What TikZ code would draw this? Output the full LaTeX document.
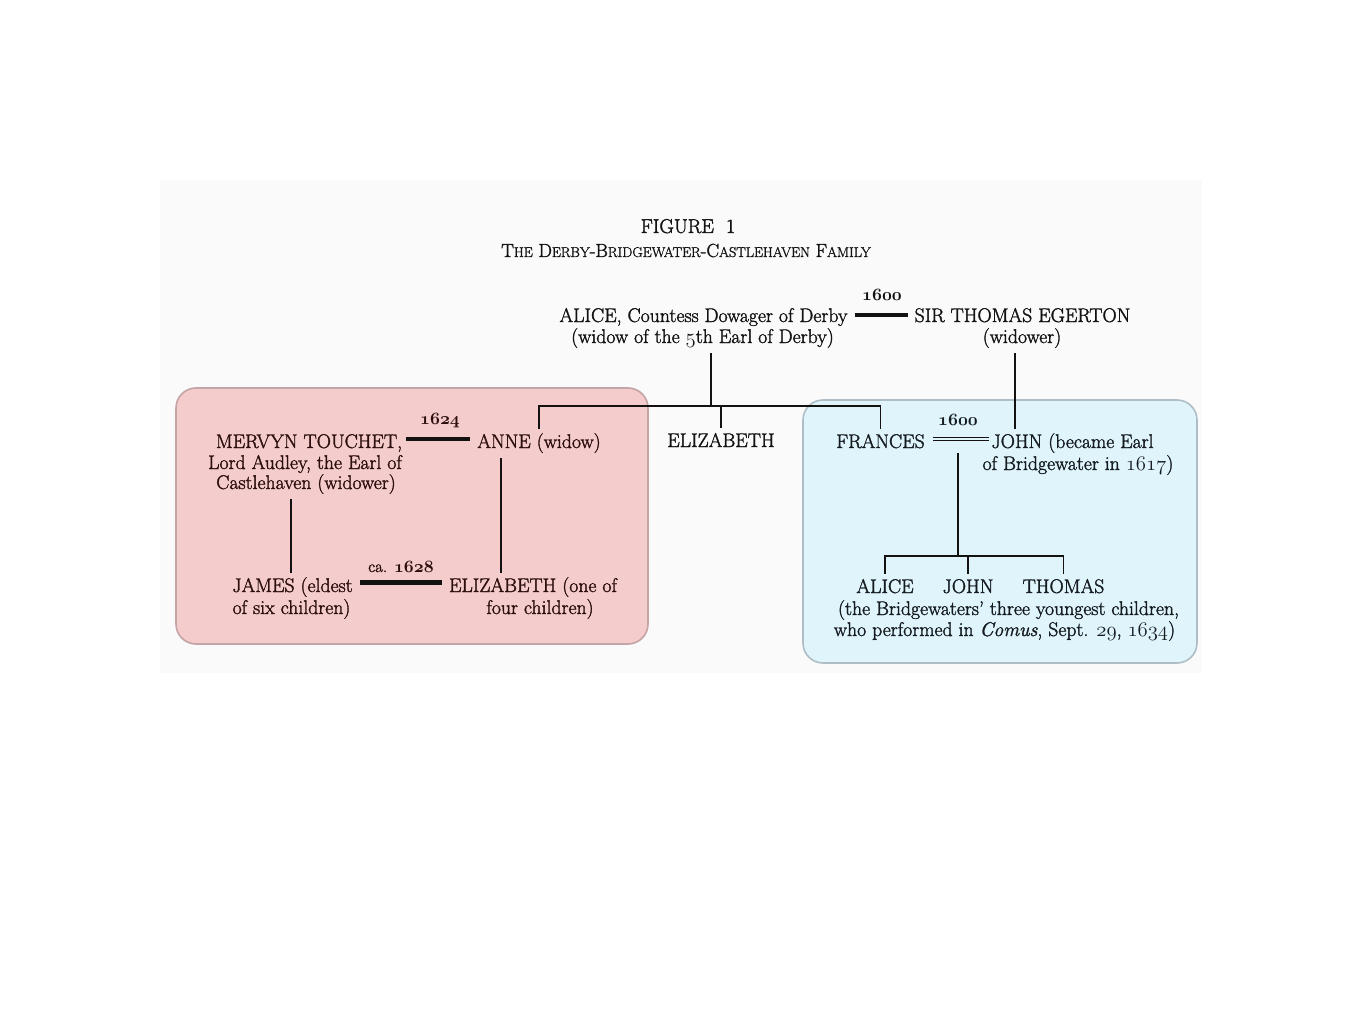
\documentclass[tikz,border=0pt]{standalone}
\usepackage{fontspec}
\setmainfont{Latin Modern Roman}[FakeBold=1.6]
\usetikzlibrary{calc}
\definecolor{ink}{HTML}{141111}
\definecolor{inkR}{HTML}{2C0E0E}
\definecolor{inkB}{HTML}{151C20}
\definecolor{scan}{HTML}{FAFAFA}
\definecolor{redfill}{HTML}{F4CCCC}
\definecolor{redline}{HTML}{C4A4A4}
\definecolor{bluefill}{HTML}{E0F4FC}
\definecolor{blueline}{HTML}{AEBDC6}
\newcommand\bodyfont{\fontsize{19.75}{22}\selectfont}
\newcommand\yearfont{\fontsize{17}{19}\selectfont}
\newcommand\osb[1]{{\usefont{OML}{cmm}{b}{it}#1}}
\newcommand\osn[1]{{\usefont{OML}{cmm}{m}{it}#1}}
\newcommand\smc[1]{{\fontsize{14.25}{16}\selectfont #1}}
\begin{document}
\begin{tikzpicture}[x=1pt,y=-1pt,
  txt/.style={anchor=base, inner xsep=0pt, inner ysep=6pt, text height=13pt, text depth=4pt, font=\bodyfont, text=ink},
  yr/.style={anchor=base, inner sep=0pt, font=\yearfont, text=ink},
  conn/.style={draw=ink, line width=1.6pt},
  bar/.style={draw=ink, line width=4.5pt},
  dbl/.style={draw=ink, line width=1.3pt, double=bluefill, double distance=2pt},
  panel/.style={rounded corners=20pt, line width=1.6pt},
]
\useasboundingbox (0,0) rectangle (1365,1024);
\fill[scan] (160,180) rectangle (1202,673);
\draw[panel, fill=redfill, draw=redline] (176,388) rectangle (648,644);
\draw[panel, fill=bluefill, draw=blueline] (803,400) rectangle (1197,663);

% title
\node[txt, font=\fontsize{20}{22}\selectfont] (title) at (688,233) {FIGURE\ \ 1};
\node[txt, font=\fontsize{19}{21}\selectfont] (subtitle) at (686,257) {T\smc{HE} D\smc{ERBY}-B\smc{RIDGEWATER}-C\smc{ASTLEHAVEN} F\smc{AMILY}};

% top generation
\node[yr] (yA) at (882,301) {\osb{1600}};
\node[txt] (aliceA) at (703.5,322) {ALICE, Countess Dowager of Derby};
\node[txt] (aliceB) at (702.5,343) {(widow of the \osn{5}th Earl of Derby)};
\node[txt] (egA) at (1022.5,322) {SIR THOMAS EGERTON};
\node[txt] (egB) at (1022,343) {(widower)};

% second generation
\node[txt, text=inkR] (mervA) at (309,448) {MERVYN TOUCHET,};
\node[txt, text=inkR] (mervB) at (305,469) {Lord Audley, the Earl of};
\node[txt, text=inkR] (mervC) at (306,489) {Castlehaven (widower)};
\node[yr, text=inkR] (yB) at (440,424) {\osb{1624}};
\node[txt, text=inkR] (anne) at (539,448) {ANNE (widow)};
\node[txt] (eliz) at (721,447) {ELIZABETH};
\node[txt, text=inkB] (frances) at (880.5,448) {FRANCES};
\node[yr, text=inkB] (yC) at (958,425) {\osb{1600}};
\node[txt, text=inkB] (johnA) at (1072.5,448) {JOHN (became Earl};
\node[txt, text=inkB] (johnB) at (1078,470) {of Bridgewater in \osn{1617})};

% third generation, left
\node[yr, text=inkR] (yD) at (401,572) {ca. \osb{1628}};
\node[txt, text=inkR] (jamesA) at (292.5,592) {JAMES (eldest};
\node[txt, text=inkR] (jamesB) at (291.5,614) {of six children)};
\node[txt, text=inkR] (elizA) at (533,592) {ELIZABETH (one of};
\node[txt, text=inkR] (elizB) at (540,614) {four children)};

% third generation, right
\node[txt, text=inkB] (cAlice) at (885,593) {ALICE};
\node[txt, text=inkB] (cJohn) at (968,593) {JOHN};
\node[txt, text=inkB] (cThomas) at (1063.5,593) {THOMAS};
\node[txt, text=inkB] (noteA) at (1008.5,615) {(the Bridgewaters\textquoteright\ three youngest children,};
\node[txt, text=inkB] (noteB) at (1004.5,636) {who performed in \textit{Comus}, Sept. \osn{29}, \osn{1634})};

% connectors
\coordinate (sib) at (711,406);
\coordinate (xE) at (1015,0);
\coordinate (xM) at (291,0);
\coordinate (xA) at (501,0);
\coordinate (mFJ) at (958,453);
\coordinate (cj) at (958,556);

\draw[bar, line width=4pt, shorten <=7pt, shorten >=6pt] ([yshift=7pt]aliceA.base east) -- ([yshift=7pt]egA.base west);
\draw[conn] (aliceB.south -| sib) -- (sib);
\draw[conn] (anne.north) -- (anne.north |- sib) -- (frances.north |- sib) -- (frances.north);
\draw[conn] (eliz.north |- sib) -- (eliz.north);
\draw[conn] (egB.south -| xE) -- (johnA.north -| xE);

\draw[bar, shorten <=4pt, shorten >=7pt] ([yshift=9pt]mervA.base east) -- ([yshift=9pt]anne.base west);
\draw[conn] (mervC.south -| xM) -- (jamesA.north -| xM);
\draw[conn] (anne.south -| xA) -- (elizA.north -| xA);
\draw[bar, line width=5pt, shorten <=7pt, shorten >=7pt] ([yshift=10pt]jamesA.base east) -- ([yshift=10pt]elizA.base west);

\draw[dbl, shorten <=8pt, shorten >=2pt] ([yshift=9pt]frances.base east) -- ([yshift=9pt]johnA.base west);
\draw[conn] (mFJ) -- (cj);
\draw[conn] (cAlice.north) -- (cAlice.north |- cj) -- (cThomas.north |- cj) -- (cThomas.north);
\draw[conn] (cJohn.north |- cj) -- (cJohn.north);
\end{tikzpicture}
\end{document}
